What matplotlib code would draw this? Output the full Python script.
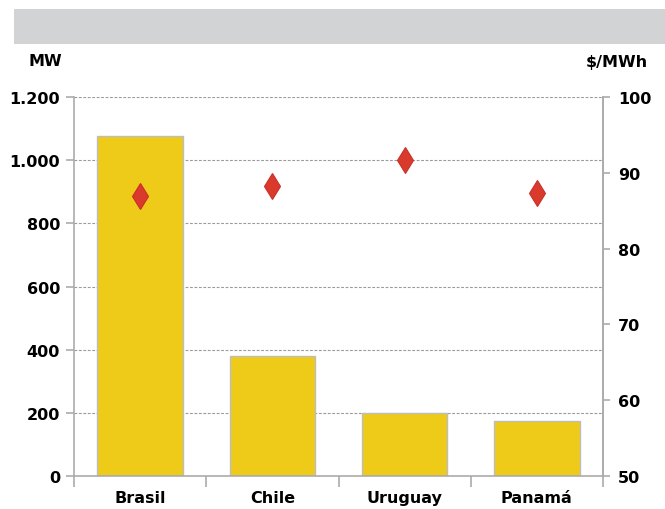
import matplotlib.pyplot as plt
from matplotlib.patches import Rectangle
from matplotlib.ticker import FuncFormatter

countries = ['Brasil', 'Chile', 'Uruguay', 'Panamá']
capacity_mw = [1075, 381, 198, 175]
price_usd_mwh = [86.9, 88.2, 91.7, 87.4]

mw_ticks = [0, 200, 400, 600, 800, 1000, 1200]
price_ticks = [50, 60, 70, 80, 90, 100]

plt.rcParams['font.family'] = ['DejaVu Sans']
plt.rcParams['font.weight'] = 'bold'

bar_color = '#EFCB19'
diamond_color = '#D93A2B'
axis_grey = '#ABABAB'

fig = plt.figure(figsize=(6.65, 5.1), dpi=100)

# grey header band
fig.patches.append(Rectangle((14 / 665, 1 - 45 / 510), 1 - 14 / 665, 35 / 510,
                             transform=fig.transFigure, facecolor='#D1D3D4',
                             edgecolor='none', zorder=0))

ax = fig.add_axes([74 / 665, 1 - 477 / 510, 529 / 665, 379 / 510])
x = list(range(len(countries)))
ax.bar(x, capacity_mw, width=0.645, color=bar_color, edgecolor='#BDBDBD',
       linewidth=1.0, zorder=2)
ax.set_xlim(-0.5, len(countries) - 0.5)
ax.set_ylim(0, 1200)
ax.set_yticks(mw_ticks)
ax.yaxis.set_major_formatter(FuncFormatter(lambda v, p: f'{int(v):,}'.replace(',', '.')))
ax.yaxis.grid(True, linestyle=(0, (2.5, 1.5)), color='#9A9A9A', linewidth=0.8)
ax.set_axisbelow(True)

ax.set_xticks(x)
ax.set_xticklabels(countries)
ax.set_xticks([i - 0.5 for i in range(len(countries) + 1)], minor=True)
ax.tick_params(axis='x', which='major', length=0, pad=10, labelsize=11.5)
ax.tick_params(axis='x', which='minor', length=8, color=axis_grey, width=1.2)
ax.tick_params(axis='y', length=6, color=axis_grey, width=1.2, pad=4, labelsize=11.5)

for side in ['left', 'bottom', 'right']:
    ax.spines[side].set_color(axis_grey)
    ax.spines[side].set_linewidth(1.2)
ax.spines['top'].set_visible(False)

ax2 = ax.twinx()
ax2.plot(x, price_usd_mwh, linestyle='none', marker='d', markersize=13.5,
         markerfacecolor=diamond_color, markeredgecolor='#C9302A',
         markeredgewidth=0.8, zorder=4)
ax2.set_ylim(50, 100)
ax2.set_yticks(price_ticks)
ax2.tick_params(axis='y', length=5, color=axis_grey, width=1.2, pad=6, labelsize=11.5)
for side in ['left', 'bottom', 'top']:
    ax2.spines[side].set_visible(False)
ax2.spines['right'].set_color(axis_grey)
ax2.spines['right'].set_linewidth(1.2)

fig.text(28 / 665, 1 - 62 / 510, 'MW', ha='left', va='center', fontsize=11.5,
         fontweight='bold')
fig.text(648 / 665, 1 - 62 / 510, '$/MWh', ha='right', va='center', fontsize=11.5,
         fontweight='bold')

fig.savefig('out.png', dpi=100)
